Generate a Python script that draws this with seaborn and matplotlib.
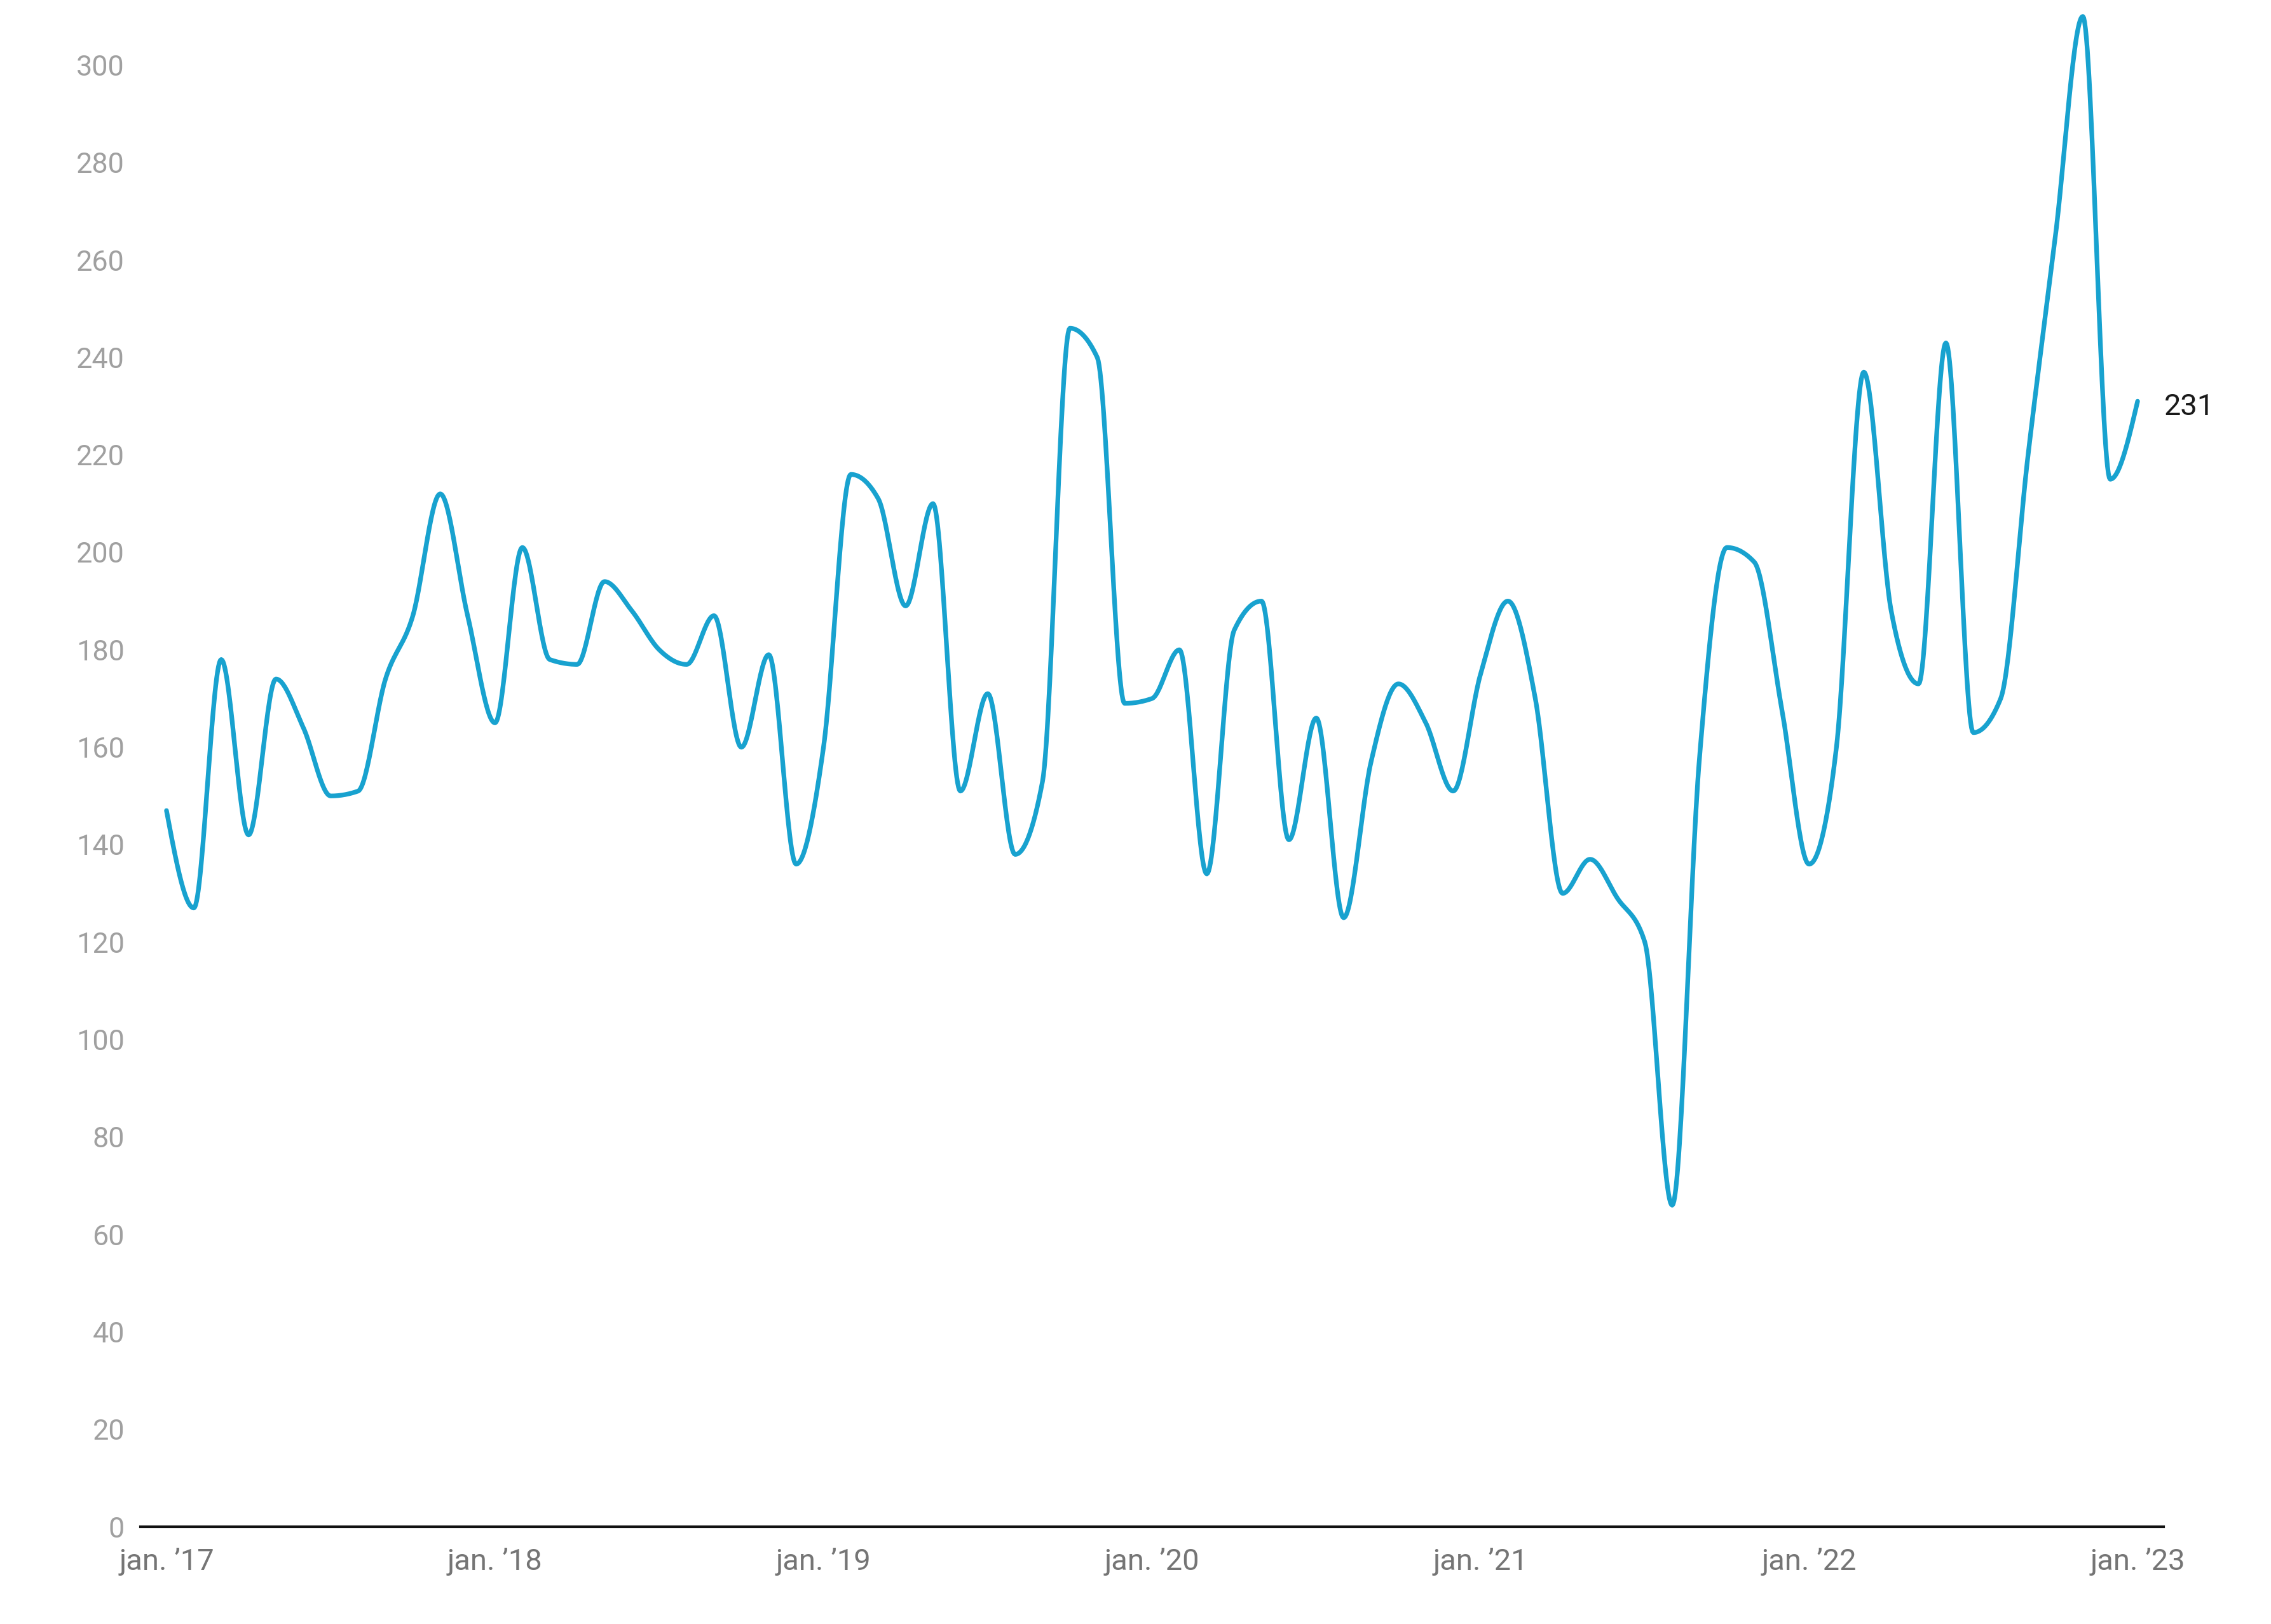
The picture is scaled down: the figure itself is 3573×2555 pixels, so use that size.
import numpy as np
import pandas as pd
import matplotlib
matplotlib.use("Agg")
import matplotlib.pyplot as plt
import seaborn as sns

# ---- data (monthly, Jan 2017 .. Jan 2023) ----
values = [147, 127, 178, 142, 174, 164, 150, 151, 174, 187, 212, 187,
          165, 201, 178, 177, 194, 188, 180, 177, 187, 160, 179, 136,
          160, 216, 211, 189, 210, 151, 171, 138, 153, 246, 240, 169,
          170, 180, 134, 184, 190, 141, 166, 125, 157, 173, 165, 151,
          175, 190, 170, 130, 137, 129, 120, 66, 158, 201, 198, 168,
          136, 160, 237, 188, 173, 243, 163, 170, 220, 265, 310, 215,
          231]
tick_labels = ["jan. \u201917", "jan. \u201918", "jan. \u201919", "jan. \u201920",
               "jan. \u201921", "jan. \u201922", "jan. \u201923"]
y_ticks = list(range(0, 301, 20))
last_label = "231"

# ---- monotone cubic interpolation (d3 curveMonotoneX style) ----
def monotone_curve(y, n_per=30):
    y = np.asarray(y, dtype=float)
    n = len(y)
    x = np.arange(n, dtype=float)
    s = np.diff(y)  # h = 1
    t = np.zeros(n)
    for i in range(1, n - 1):
        s0, s1 = s[i - 1], s[i]
        p = (s0 + s1) / 2.0
        t[i] = (np.sign(s0) + np.sign(s1)) * min(abs(s0), abs(s1), 0.5 * abs(p))
    t[0] = (3 * s[0] - t[1]) / 2.0
    t[-1] = (3 * s[-1] - t[-2]) / 2.0
    xs, ys = [], []
    for i in range(n - 1):
        u = np.linspace(0, 1, n_per, endpoint=(i == n - 2))
        h00 = 2 * u**3 - 3 * u**2 + 1
        h10 = u**3 - 2 * u**2 + u
        h01 = -2 * u**3 + 3 * u**2
        h11 = u**3 - u**2
        ys.append(h00 * y[i] + h10 * t[i] + h01 * y[i + 1] + h11 * t[i + 1])
        xs.append(x[i] + u)
    return np.concatenate(xs), np.concatenate(ys)

cx, cy = monotone_curve(values)
df = pd.DataFrame({"month": cx, "value": cy})

sns.set_theme(style="white")
plt.rcParams["font.family"] = ["Roboto", "DejaVu Sans"]

W, H, DPI = 3573, 2555, 300
fig = plt.figure(figsize=(W / DPI, H / DPI), dpi=DPI)
ax = fig.add_axes([221 / W, 1 - 2402 / H, (3404 - 221) / W, (2402 - 10.5) / H])

sns.lineplot(data=df, x="month", y="value", ax=ax, color="#18a2cf",
             linewidth=1.75, sort=False, clip_on=False)

ax.set_xlim(-0.95, len(values) - 1 + 0.95)
ax.set_ylim(0, 312)
ax.set_xticks(np.arange(0, len(values), 12))
ax.set_xticklabels(tick_labels)
ax.set_yticks(y_ticks)
ax.set_yticklabels([str(v) for v in y_ticks])
ax.tick_params(axis="y", length=0, pad=6, labelsize=10.8, labelcolor="#a0a0a0")
ax.tick_params(axis="x", length=0, pad=8, labelsize=11.3, labelcolor="#757575")
ax.set_xlabel("")
ax.set_ylabel("")
ax.grid(False)
for side in ["left", "right", "top"]:
    ax.spines[side].set_visible(False)
ax.spines["bottom"].set_color("#111111")
ax.spines["bottom"].set_linewidth(1.0)

ax.annotate(last_label, xy=(len(values) - 1, values[-1]), xytext=(10, -2),
            textcoords="offset points", ha="left", va="center",
            fontsize=11.3, color="#1a1a1a", annotation_clip=False)

fig.savefig("out.png", dpi=DPI, facecolor="white")
